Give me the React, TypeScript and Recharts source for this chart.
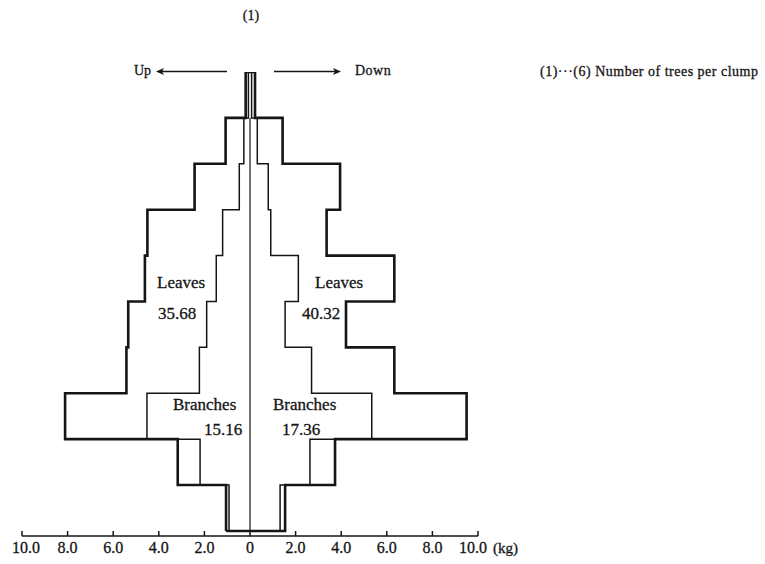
import React from 'react';
import { ScatterChart, Scatter, XAxis, YAxis } from 'recharts';

// Layers from bottom (index 0) to top (index 9); values in kg
const upBranches = [0.92, 2.19, 4.52, 2.22, 1.9, 1.48, 1.2, 0.47, 0.27, 0.07];
const upTotal = [1.05, 3.17, 8.11, 5.42, 5.34, 4.61, 4.5, 2.43, 1.07, 0.19];
const downBranches = [1.32, 2.63, 5.34, 2.7, 1.54, 2.12, 0.91, 0.8, 0.32, 0.07];
const downTotal = [1.54, 3.73, 9.5, 6.33, 4.21, 6.33, 3.36, 3.95, 1.43, 0.22];
const xTicks = [-10, -8, -6, -4, -2, 0, 2, 4, 6, 8, 10];
const centerLine = [
  { x: 0, y: 0 },
  { x: 0, y: 9 },
];

type Pt = { x: number; y: number };

function outline(up: number[], down: number[]): Pt[] {
  const pts: Pt[] = [];
  up.forEach((v, i) => {
    pts.push({ x: -v, y: i });
    pts.push({ x: -v, y: i + 1 });
  });
  for (let i = down.length - 1; i >= 0; i--) {
    pts.push({ x: down[i], y: i + 1 });
    pts.push({ x: down[i], y: i });
  }
  pts.push(pts[0]);
  return pts;
}

const totalOutline = outline(upTotal, downTotal);
const branchOutline = outline(upBranches, downBranches);

const FONT = '"Liberation Serif", "Times New Roman", serif';
const INK = '#151515';

const NoShape = () => <g />;

const Tick = (props: any) => {
  const { x, y, payload } = props;
  const v = payload.value as number;
  const label = v === 0 ? '0' : Math.abs(v).toFixed(1);
  const dx = v === -10 ? 4 : v === 10 ? -5 : 0;
  return (
    <g>
      <line x1={x} y1={y} x2={x} y2={y - 5} stroke={INK} strokeWidth={1.5} />
      <text
        x={x + dx}
        y={y + 17}
        textAnchor="middle"
        fontFamily={FONT}
        fontSize={16}
        fill={INK}
        stroke={INK}
        strokeWidth={0.3}
      >
        {label}
      </text>
    </g>
  );
};

const txt = (x: number, y: number, s: string, size = 17, extra: any = {}) => (
  <text x={x} y={y} fontFamily={FONT} fontSize={size} fill={INK} stroke={INK} strokeWidth={0.3} {...extra}>
    {s}
  </text>
);

export default function App() {
  return (
    <div style={{ position: 'absolute', left: 0, top: 0, width: 765, height: 564, background: '#fff' }}>
      <ScatterChart width={765} height={564} margin={{ top: 72, right: 287, left: 22, bottom: 0 }}>
        <XAxis
          type="number"
          dataKey="x"
          domain={[-10, 10]}
          ticks={xTicks}
          allowDataOverflow
          height={28}
          tickSize={0}
          tickMargin={0}
          tick={<Tick />}
          axisLine={{ stroke: INK, strokeWidth: 1.5 }}
          tickLine={false}
        />
        <YAxis type="number" dataKey="y" domain={[-0.11, 10]} allowDataOverflow hide width={0} />
        <Scatter
          data={centerLine}
          fill={INK}
          line={{ stroke: INK, strokeWidth: 1.2 }}
          shape={NoShape}
          isAnimationActive={false}
        />
        <Scatter
          data={branchOutline}
          fill={INK}
          line={{ stroke: INK, strokeWidth: 1.5 }}
          shape={NoShape}
          isAnimationActive={false}
        />
        <Scatter
          data={totalOutline}
          fill={INK}
          line={{ stroke: INK, strokeWidth: 2.6, strokeLinejoin: 'miter' }}
          shape={NoShape}
          isAnimationActive={false}
        />
      </ScatterChart>
      <svg
        width={765}
        height={564}
        style={{ position: 'absolute', left: 0, top: 0, pointerEvents: 'none' }}
      >
        {txt(251, 20, '(1)', 14, { textAnchor: 'middle' })}
        {txt(134, 75, 'Up', 14)}
        <line x1={160} y1={71.5} x2={227} y2={71.5} stroke={INK} strokeWidth={1.3} />
        <polygon points="156,71.5 164,68 162,71.5 164,75" fill={INK} />
        {txt(355, 75, 'Down', 14, { letterSpacing: 0.5 })}
        <line x1={274} y1={71.5} x2={336} y2={71.5} stroke={INK} strokeWidth={1.3} />
        <polygon points="341,71.5 333,68 335,71.5 333,75" fill={INK} />
        {txt(540, 76, '(1)···(6) Number of trees per clump', 14, { letterSpacing: 0.5 })}
        {txt(157, 288, 'Leaves', 17)}
        {txt(158, 319, '35.68', 17)}
        {txt(173, 410, 'Branches', 17)}
        {txt(204, 435, '15.16', 17)}
        {txt(315, 288, 'Leaves', 17)}
        {txt(302, 319, '40.32', 17)}
        {txt(273, 410, 'Branches', 17)}
        {txt(282, 435, '17.36', 17)}
        {txt(493, 553, '(kg)', 15)}
      </svg>
    </div>
  );
}
